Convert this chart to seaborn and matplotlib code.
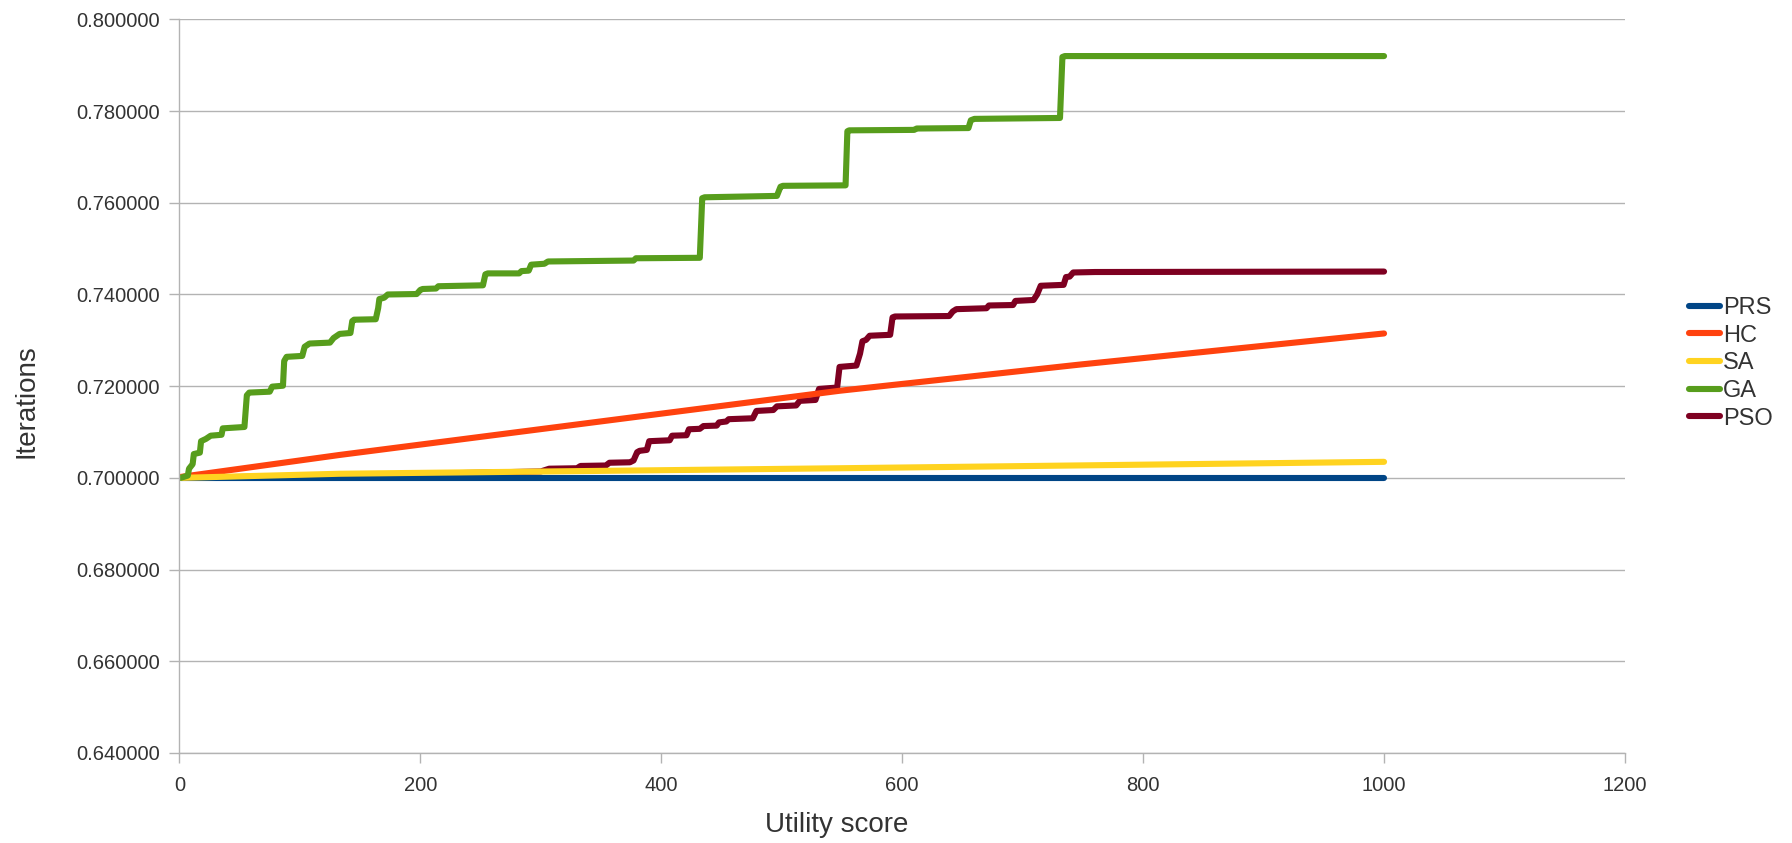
import pandas as pd
import matplotlib
matplotlib.use('Agg')
import matplotlib.pyplot as plt
from matplotlib.ticker import FormatStrFormatter
import seaborn as sns

# Values
prs_x = [1, 1000]
prs_y = [0.7000, 0.7000]

hc_x = [1, 133, 548, 747, 1000]
hc_y = [0.7002, 0.7050, 0.7190, 0.7247, 0.7315]

sa_x = [1, 133, 548, 1000]
sa_y = [0.7000, 0.7009, 0.7021, 0.7035]

ga_x = [1, 7, 8, 11, 12, 17, 18, 22, 26, 35, 36, 54, 56, 58, 75, 77, 86, 87, 89,
        102, 104, 108, 125, 128, 133, 142, 143.5, 145, 163, 165, 166, 170, 173,
        197, 200, 202, 213, 215, 252, 254, 256, 282, 284, 290, 292, 303, 306,
        377, 379, 432, 434, 436, 496, 499, 501, 553, 554.5, 556, 610, 612, 655,
        657, 660, 731, 733, 735, 1000]
ga_y = [0.7000, 0.7005, 0.7020, 0.7030, 0.7052, 0.7055, 0.7080, 0.7085, 0.7092,
        0.7094, 0.7108, 0.7111, 0.7180, 0.7186, 0.7188, 0.7199, 0.7201, 0.7255,
        0.7264, 0.7266, 0.7286, 0.7293, 0.7295, 0.7305, 0.7314, 0.7316, 0.7342,
        0.7345, 0.7346, 0.7370, 0.7390, 0.7393, 0.7400, 0.7401, 0.7410, 0.7412,
        0.7413, 0.7418, 0.7420, 0.7444, 0.7446, 0.7446, 0.7451, 0.7452, 0.7465,
        0.7467, 0.7472, 0.7474, 0.7479, 0.7480, 0.7610, 0.7612, 0.7615, 0.7635,
        0.7637, 0.7638, 0.7756, 0.7758, 0.7759, 0.7762, 0.7763, 0.7780, 0.7783,
        0.7785, 0.7918, 0.7920, 0.7920]

pso_x = [1, 150, 300, 307, 330, 333, 354, 357, 374, 377, 380, 382, 388, 390, 407,
         409, 421, 423, 432, 435, 446, 448, 454, 456, 476, 479, 493, 496, 512,
         515, 528, 531, 546, 548, 562, 565, 567, 570, 573, 590, 592, 594, 639,
         642, 645, 670, 672, 692, 694, 709, 712, 715, 734, 736, 739, 742, 760,
         1000]
pso_y = [0.7000, 0.7006, 0.7014, 0.7020, 0.7021, 0.7026, 0.7027, 0.7033, 0.7034,
         0.7038, 0.7056, 0.7059, 0.7061, 0.7080, 0.7082, 0.7092, 0.7093, 0.7106,
         0.7107, 0.7113, 0.7114, 0.7121, 0.7123, 0.7128, 0.7130, 0.7146, 0.7148,
         0.7156, 0.7158, 0.7168, 0.7170, 0.7194, 0.7197, 0.7242, 0.7245, 0.7271,
         0.7298, 0.7301, 0.7310, 0.7312, 0.7350, 0.7352, 0.7353, 0.7363, 0.7368,
         0.7370, 0.7376, 0.7377, 0.7386, 0.7388, 0.7400, 0.7419, 0.7421, 0.7438,
         0.7439, 0.7448, 0.7449, 0.7450]

series = ['PRS', 'HC', 'SA', 'GA', 'PSO']
colors = ['#004586', '#ff420e', '#ffd320', '#579d1c', '#7e0021']
y_ticks = [0.64, 0.66, 0.68, 0.70, 0.72, 0.74, 0.76, 0.78, 0.80]
x_ticks = [0, 200, 400, 600, 800, 1000, 1200]

# Build one long table for seaborn
frames = []
for name, xs, ys in zip(series,
                        [prs_x, hc_x, sa_x, ga_x, pso_x],
                        [prs_y, hc_y, sa_y, ga_y, pso_y]):
    frames.append(pd.DataFrame({'x': xs, 'y': ys, 'Algorithm': name}))
data = pd.concat(frames, ignore_index=True)

sns.set_style('white')
plt.rcParams['font.family'] = ['Liberation Sans', 'DejaVu Sans']

fig = plt.figure(figsize=(17.92, 8.43), dpi=100)
ax = fig.add_axes([0.1001, 0.1068, 0.8067, 0.8702])

sns.lineplot(data=data, x='x', y='y', hue='Algorithm', hue_order=series,
             palette=dict(zip(series, colors)), estimator=None, sort=False,
             linewidth=4.4, ax=ax)

# PSO sits underneath the flat lines where they overlap
ax.lines[4].set_zorder(1.9)

ax.set_xlim(0, 1200)
ax.set_ylim(0.64, 0.80)
ax.set_xticks(x_ticks)
ax.set_yticks(y_ticks)
ax.yaxis.set_major_formatter(FormatStrFormatter('%.6f'))
ax.grid(axis='y', color='#b3b3b3', linewidth=1)
ax.set_axisbelow(True)

for side in ['top', 'right']:
    ax.spines[side].set_visible(False)
for side in ['left', 'bottom']:
    ax.spines[side].set_color('#b3b3b3')
    ax.spines[side].set_linewidth(1)

ax.tick_params(axis='both', which='major', direction='out', length=7.5, width=1,
               color='#b3b3b3', labelsize=14.5, labelcolor='#333333',
               left=True, bottom=True)
ax.tick_params(axis='y', pad=6.5)
ax.tick_params(axis='x', pad=9)

ax.set_xlabel('Utility score', fontsize=20, color='#333333')
ax.set_ylabel('Iterations', fontsize=20, color='#333333')
ax.xaxis.set_label_coords(0.455, -0.080)
ax.yaxis.set_label_coords(-0.097, 0.48)

leg = ax.legend(loc='center left', bbox_to_anchor=(0.9425, 0.569),
                bbox_transform=fig.transFigure, frameon=False, fontsize=17,
                handlelength=1.3, handletextpad=0.15, labelspacing=0.24,
                borderaxespad=0, borderpad=0)
for line in leg.get_lines():
    line.set_linewidth(4.4)
for text in leg.get_texts():
    text.set_color('#333333')

fig.savefig('out.png', dpi=100)
